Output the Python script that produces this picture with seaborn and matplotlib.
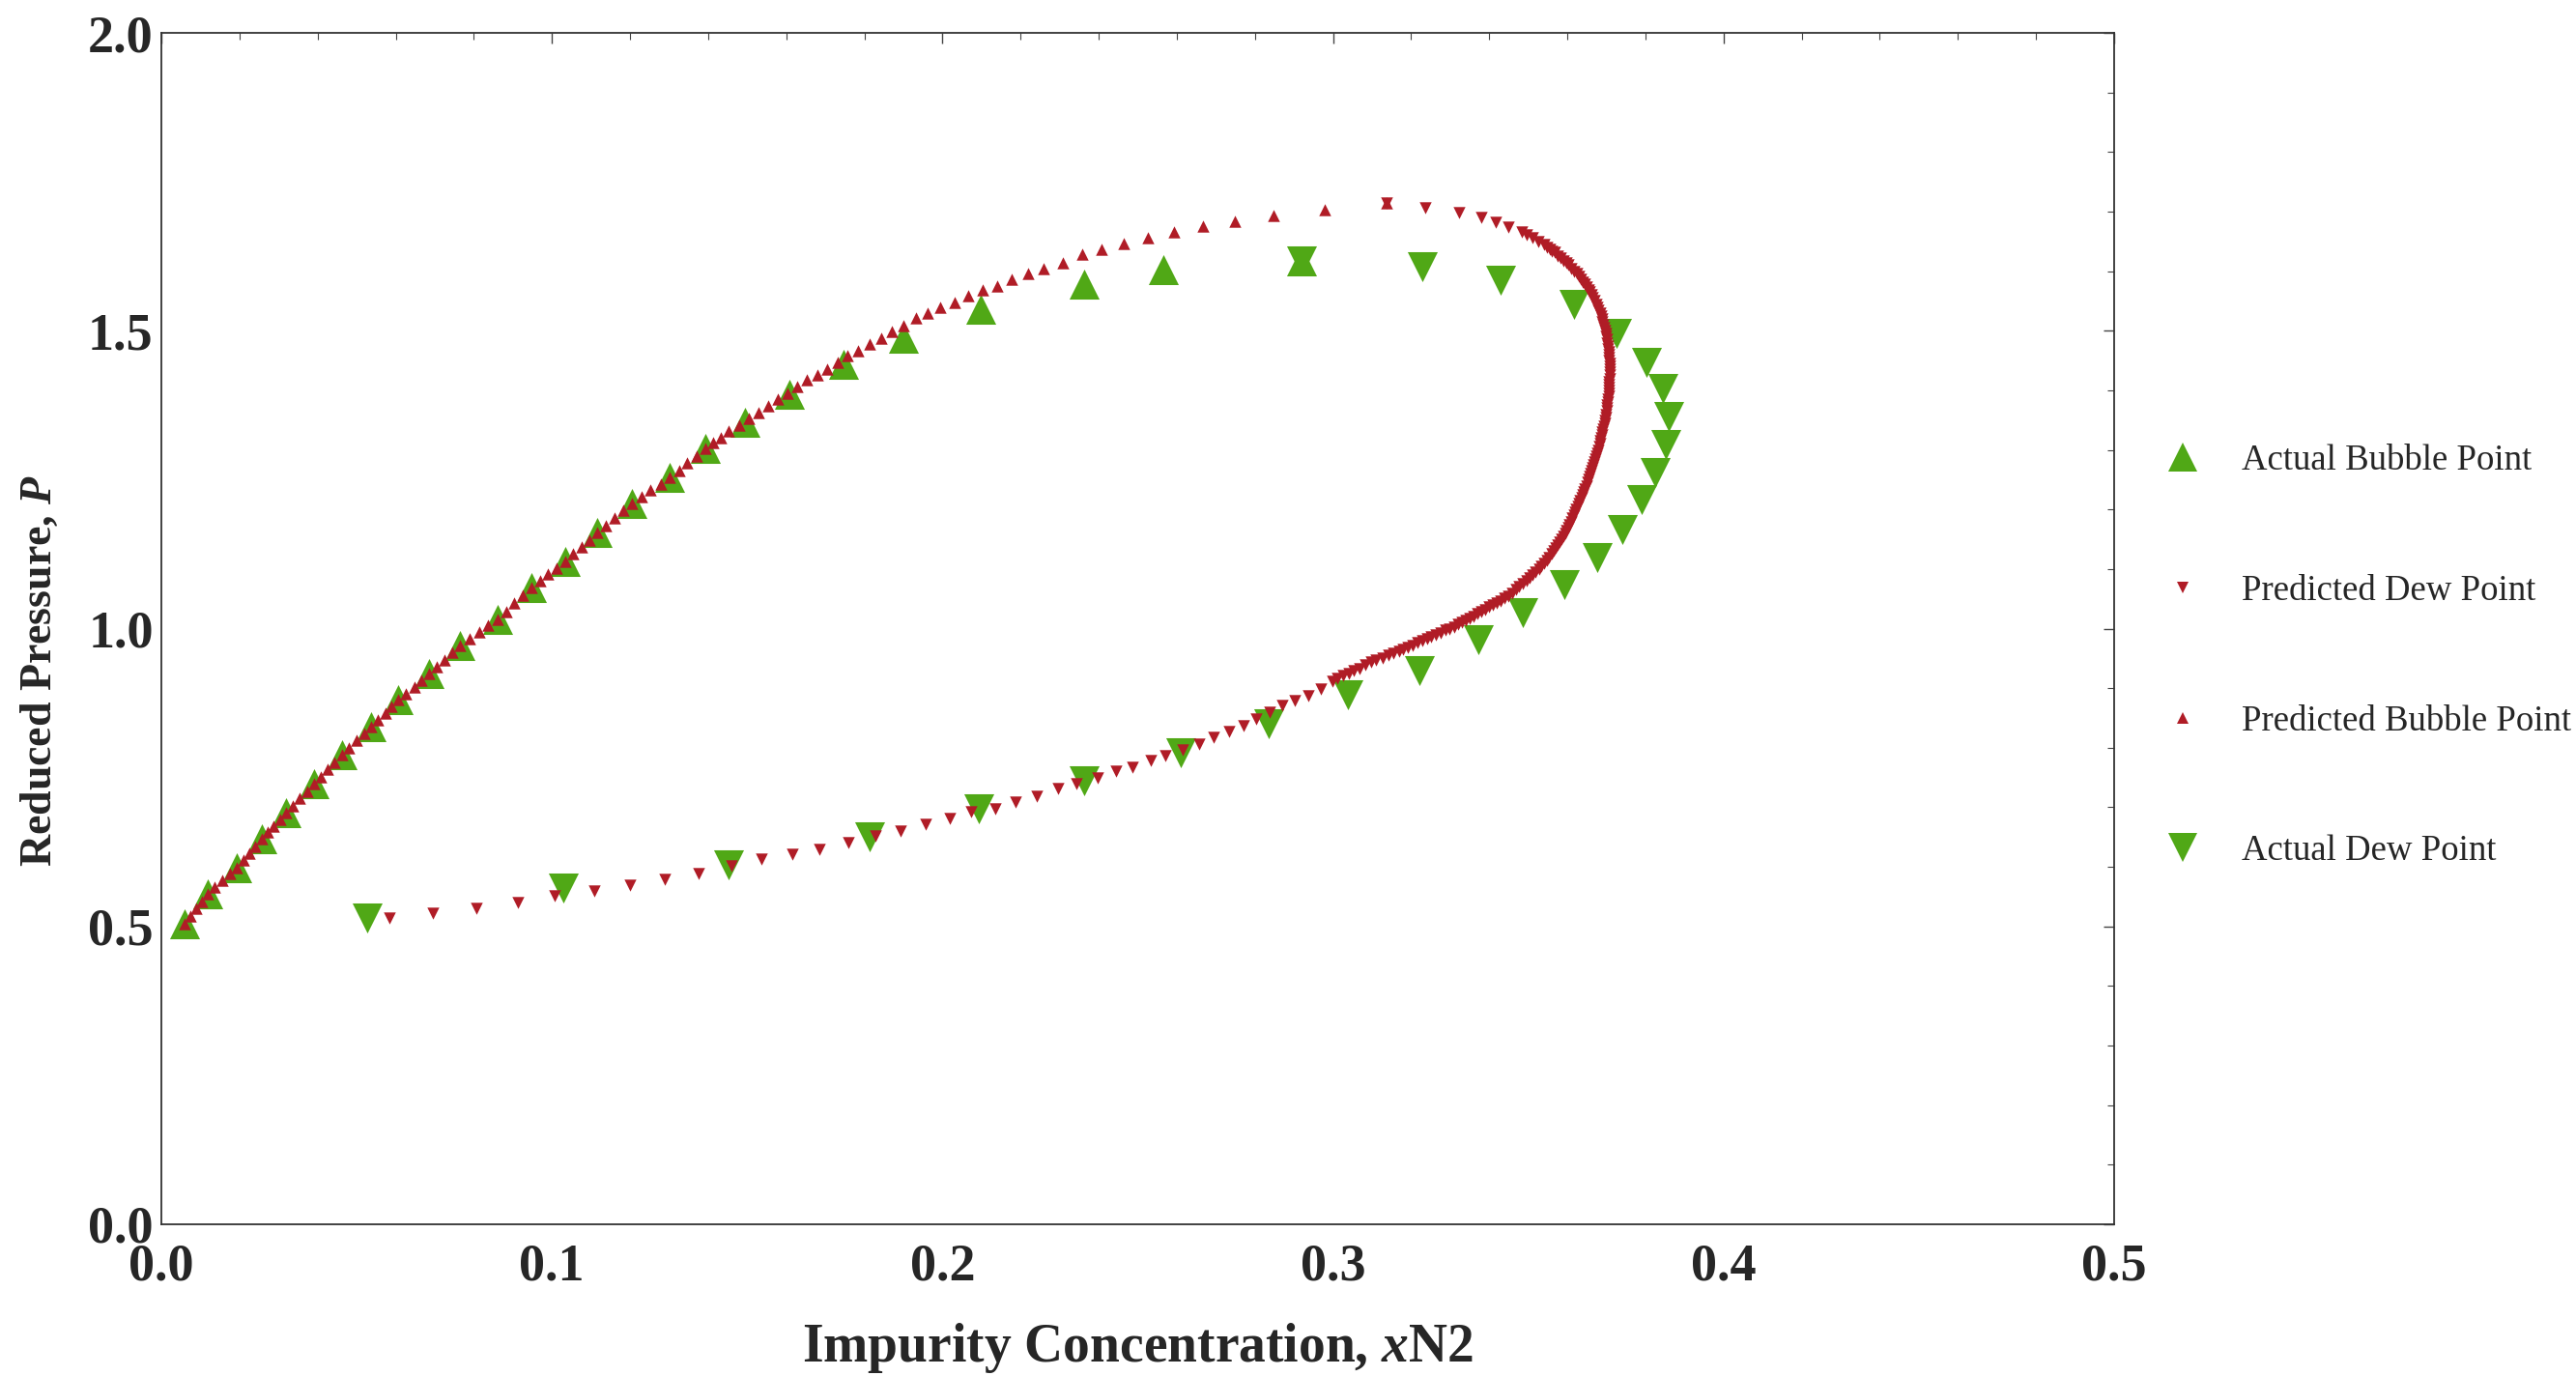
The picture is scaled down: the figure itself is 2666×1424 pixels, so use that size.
import numpy as np
import pandas as pd
import seaborn as sns
import matplotlib
matplotlib.use("Agg")
import matplotlib.pyplot as plt
from matplotlib.lines import Line2D
from matplotlib.ticker import MultipleLocator, FormatStrFormatter

# ---------------- data ----------------
actual_bubble_x = [0.0060, 0.0118, 0.0194, 0.0257, 0.0319, 0.0391, 0.0462, 0.0538, 0.0607,
                   0.0686, 0.0765, 0.0860, 0.0947, 0.1033, 0.1117, 0.1204, 0.1302, 0.1392,
                   0.1494, 0.1609, 0.1747, 0.1901, 0.2098, 0.2363, 0.2566, 0.2919]
actual_bubble_y = [0.505, 0.555, 0.599, 0.647, 0.691, 0.739, 0.788, 0.836, 0.880,
                   0.924, 0.972, 1.016, 1.069, 1.113, 1.161, 1.210, 1.254, 1.302,
                   1.346, 1.394, 1.443, 1.487, 1.536, 1.579, 1.603, 1.618]

actual_dew_x = [0.2919, 0.3228, 0.3428, 0.3617, 0.3727, 0.3802, 0.3844, 0.3859, 0.3853,
                0.3825, 0.3790, 0.3740, 0.3677, 0.3592, 0.3487, 0.3371, 0.3220, 0.3037,
                0.2835, 0.2610, 0.2363, 0.2092, 0.1814, 0.1452, 0.1030, 0.0528]
actual_dew_y = [1.618, 1.607, 1.585, 1.544, 1.495, 1.447, 1.403, 1.356, 1.309,
                1.262, 1.216, 1.167, 1.120, 1.073, 1.027, 0.981, 0.930, 0.889,
                0.840, 0.792, 0.745, 0.697, 0.651, 0.603, 0.564, 0.515]

pred_bubble_x = [0.0060, 0.0075, 0.0089, 0.0104, 0.0118, 0.0137, 0.0156, 0.0175, 0.0194, 0.0210,
                 0.0226, 0.0241, 0.0257, 0.0273, 0.0288, 0.0304, 0.0319, 0.0337, 0.0355, 0.0373,
                 0.0391, 0.0409, 0.0426, 0.0444, 0.0462, 0.0481, 0.0500, 0.0519, 0.0538, 0.0555,
                 0.0573, 0.0590, 0.0607, 0.0627, 0.0647, 0.0666, 0.0686, 0.0706, 0.0726, 0.0745,
                 0.0765, 0.0789, 0.0813, 0.0836, 0.0860, 0.0882, 0.0904, 0.0925, 0.0947, 0.0969,
                 0.0990, 0.1012, 0.1033, 0.1054, 0.1075, 0.1096, 0.1117, 0.1139, 0.1161, 0.1182,
                 0.1204, 0.1229, 0.1253, 0.1278, 0.1302, 0.1325, 0.1347, 0.1370, 0.1392, 0.1412,
                 0.1433, 0.1453, 0.1479, 0.1505, 0.1529, 0.1553, 0.1579, 0.1603, 0.1627, 0.1653,
                 0.1679, 0.1705, 0.1731, 0.1757, 0.1785, 0.1813, 0.1842, 0.1870, 0.1900, 0.1933,
                 0.1963, 0.1995, 0.2030, 0.2065, 0.2102, 0.2139, 0.2178, 0.2218, 0.2260, 0.2308,
                 0.2357, 0.2406, 0.2464, 0.2526, 0.2592, 0.2666, 0.2749, 0.2848, 0.2979, 0.3137]
pred_bubble_y = [0.505, 0.517, 0.530, 0.542, 0.555, 0.566, 0.577, 0.588, 0.599, 0.611,
                 0.623, 0.635, 0.647, 0.658, 0.669, 0.680, 0.691, 0.703, 0.715, 0.727,
                 0.739, 0.751, 0.764, 0.776, 0.788, 0.800, 0.812, 0.824, 0.836, 0.847,
                 0.858, 0.869, 0.880, 0.891, 0.902, 0.913, 0.924, 0.936, 0.948, 0.960,
                 0.972, 0.983, 0.994, 1.005, 1.016, 1.029, 1.043, 1.056, 1.069, 1.080,
                 1.091, 1.102, 1.113, 1.125, 1.137, 1.149, 1.161, 1.173, 1.185, 1.198,
                 1.210, 1.221, 1.232, 1.243, 1.254, 1.266, 1.278, 1.290, 1.302, 1.312,
                 1.321, 1.331, 1.341, 1.352, 1.363, 1.374, 1.385, 1.395, 1.406, 1.417,
                 1.425, 1.436, 1.447, 1.458, 1.467, 1.477, 1.487, 1.498, 1.509, 1.521,
                 1.530, 1.539, 1.548, 1.558, 1.569, 1.575, 1.586, 1.596, 1.604, 1.614,
                 1.628, 1.637, 1.647, 1.656, 1.666, 1.675, 1.684, 1.693, 1.703, 1.715]

pred_dew_x = [0.3137, 0.3237, 0.3322, 0.3379, 0.3417, 0.3450, 0.3483, 0.3497, 0.3511, 0.3526,
              0.3540, 0.3547, 0.3554, 0.3561, 0.3568, 0.3575, 0.3582, 0.3589, 0.3596, 0.3603,
              0.3610, 0.3618, 0.3625, 0.3630, 0.3635, 0.3640, 0.3645, 0.3649, 0.3653, 0.3657,
              0.3661, 0.3665, 0.3669, 0.3673, 0.3677, 0.3680, 0.3683, 0.3686, 0.3688, 0.3690,
              0.3692, 0.3694, 0.3696, 0.3698, 0.3699, 0.3701, 0.3702, 0.3703, 0.3704, 0.3705,
              0.3706, 0.3707, 0.3707, 0.3708, 0.3708, 0.3708, 0.3708, 0.3708, 0.3708, 0.3707,
              0.3707, 0.3706, 0.3706, 0.3705, 0.3705, 0.3704, 0.3703, 0.3702, 0.3701, 0.3700,
              0.3699, 0.3698, 0.3697, 0.3695, 0.3694, 0.3692, 0.3690, 0.3689, 0.3687, 0.3685,
              0.3683, 0.3681, 0.3679, 0.3677, 0.3675, 0.3672, 0.3670, 0.3667, 0.3665, 0.3662,
              0.3660, 0.3657, 0.3654, 0.3651, 0.3648, 0.3645, 0.3642, 0.3639, 0.3636, 0.3633,
              0.3630, 0.3626, 0.3623, 0.3619, 0.3616, 0.3612, 0.3609, 0.3605, 0.3602, 0.3598,
              0.3595, 0.3591, 0.3586, 0.3581, 0.3576, 0.3570, 0.3565, 0.3559, 0.3553, 0.3547,
              0.3541, 0.3534, 0.3527, 0.3519, 0.3511, 0.3503, 0.3495, 0.3486, 0.3477, 0.3468,
              0.3459, 0.3450, 0.3440, 0.3430, 0.3420, 0.3410, 0.3400, 0.3390, 0.3380, 0.3370,
              0.3360, 0.3350, 0.3340, 0.3330, 0.3320, 0.3310, 0.3299, 0.3288, 0.3276, 0.3264,
              0.3252, 0.3240, 0.3228, 0.3216, 0.3204, 0.3192, 0.3180, 0.3168, 0.3155, 0.3142,
              0.3127, 0.3111, 0.3097, 0.3083, 0.3068, 0.3054, 0.3040, 0.3026, 0.3012, 0.2998,
              0.2969, 0.2936, 0.2903, 0.2870, 0.2837, 0.2804, 0.2770, 0.2733, 0.2695, 0.2657,
              0.2614, 0.2571, 0.2534, 0.2486, 0.2444, 0.2398, 0.2344, 0.2295, 0.2242, 0.2188,
              0.2136, 0.2074, 0.2018, 0.1957, 0.1893, 0.1829, 0.1759, 0.1685, 0.1616, 0.1537,
              0.1460, 0.1375, 0.1290, 0.1201, 0.1109, 0.1008, 0.0913, 0.0806, 0.0696, 0.0583]
pred_dew_y = [1.715, 1.706, 1.698, 1.690, 1.682, 1.674, 1.666, 1.661, 1.656, 1.650,
              1.644, 1.640, 1.637, 1.634, 1.631, 1.626, 1.622, 1.618, 1.614, 1.610,
              1.605, 1.600, 1.596, 1.591, 1.587, 1.582, 1.578, 1.573, 1.569, 1.565,
              1.560, 1.555, 1.550, 1.545, 1.540, 1.535, 1.530, 1.525, 1.520, 1.515,
              1.510, 1.505, 1.500, 1.495, 1.490, 1.485, 1.480, 1.475, 1.470, 1.465,
              1.460, 1.455, 1.450, 1.445, 1.440, 1.435, 1.430, 1.425, 1.420, 1.415,
              1.410, 1.405, 1.400, 1.395, 1.390, 1.385, 1.380, 1.375, 1.370, 1.365,
              1.360, 1.355, 1.350, 1.345, 1.340, 1.335, 1.330, 1.325, 1.320, 1.315,
              1.310, 1.305, 1.300, 1.295, 1.290, 1.285, 1.280, 1.275, 1.270, 1.265,
              1.260, 1.255, 1.250, 1.245, 1.240, 1.235, 1.230, 1.225, 1.220, 1.215,
              1.210, 1.205, 1.200, 1.195, 1.190, 1.185, 1.180, 1.175, 1.170, 1.165,
              1.160, 1.155, 1.150, 1.145, 1.140, 1.135, 1.130, 1.125, 1.120, 1.115,
              1.110, 1.105, 1.100, 1.095, 1.090, 1.085, 1.080, 1.075, 1.070, 1.065,
              1.060, 1.055, 1.051, 1.047, 1.043, 1.040, 1.036, 1.032, 1.028, 1.025,
              1.021, 1.017, 1.014, 1.010, 1.007, 1.003, 1.000, 0.997, 0.993, 0.990,
              0.986, 0.983, 0.979, 0.976, 0.972, 0.969, 0.965, 0.962, 0.958, 0.955,
              0.951, 0.947, 0.944, 0.939, 0.933, 0.929, 0.925, 0.921, 0.917, 0.911,
              0.898, 0.887, 0.879, 0.871, 0.860, 0.849, 0.837, 0.828, 0.817, 0.806,
              0.796, 0.787, 0.778, 0.768, 0.760, 0.750, 0.739, 0.731, 0.719, 0.709,
              0.698, 0.693, 0.682, 0.671, 0.660, 0.652, 0.641, 0.630, 0.622, 0.613,
              0.601, 0.589, 0.579, 0.569, 0.560, 0.551, 0.540, 0.530, 0.522, 0.514]

legend_labels = ["Actual Bubble Point", "Predicted Dew Point",
                 "Predicted Bubble Point", "Actual Dew Point"]
x_ticks = [0.0, 0.1, 0.2, 0.3, 0.4, 0.5]
y_ticks = [0.0, 0.5, 1.0, 1.5, 2.0]

# ---------------- style ----------------
sns.set_style("white")
plt.rcParams['font.family'] = ['Liberation Serif', 'DejaVu Serif']
plt.rcParams['mathtext.fontset'] = 'custom'
plt.rcParams['mathtext.rm'] = 'Liberation Serif:bold'
plt.rcParams['mathtext.it'] = 'Liberation Serif:italic:bold'
plt.rcParams['mathtext.bf'] = 'Liberation Serif:bold'

GREEN = '#50a816'
RED = '#b01c26'

fig = plt.figure(figsize=(26.66, 14.24), dpi=100)
ax = fig.add_axes([167/2666, 1 - 1267/1424, (2188 - 167)/2666, (1267 - 34)/1424])

df_ab = pd.DataFrame({"x": actual_bubble_x, "y": actual_bubble_y})
df_ad = pd.DataFrame({"x": actual_dew_x, "y": actual_dew_y})
df_pb = pd.DataFrame({"x": pred_bubble_x, "y": pred_bubble_y})
df_pd = pd.DataFrame({"x": pred_dew_x, "y": pred_dew_y})

big = 500
small = 80
sns.scatterplot(data=df_ab, x="x", y="y", marker="^", s=big, color=GREEN, linewidth=0, ax=ax, zorder=2)
sns.scatterplot(data=df_ad, x="x", y="y", marker="v", s=big, color=GREEN, linewidth=0, ax=ax, zorder=2)
sns.scatterplot(data=df_pb, x="x", y="y", marker="^", s=small, color=RED, linewidth=0, ax=ax, zorder=3)
sns.scatterplot(data=df_pd, x="x", y="y", marker="v", s=small, color=RED, linewidth=0, ax=ax, zorder=3)

ax.set_xlim(0, 0.5)
ax.set_ylim(0, 2.0)
ax.set_xticks(x_ticks)
ax.set_yticks(y_ticks)
ax.xaxis.set_minor_locator(MultipleLocator(0.02))
ax.yaxis.set_minor_locator(MultipleLocator(0.1))
ax.xaxis.set_major_formatter(FormatStrFormatter('%.1f'))
ax.yaxis.set_major_formatter(FormatStrFormatter('%.1f'))
ax.tick_params(which='both', direction='in', top=True, right=True, color='#444444')
ax.tick_params(which='major', length=8, width=1.0, labelsize=39)
ax.tick_params(axis='x', which='major', pad=14)
ax.tick_params(axis='y', which='major', pad=6)
ax.tick_params(which='minor', length=5, width=0.8)
for lab in ax.get_xticklabels() + ax.get_yticklabels():
    lab.set_fontweight('bold')
for sp in ax.spines.values():
    sp.set_color('#333333')
    sp.set_linewidth(1.3)

ax.set_xlabel(r'Impurity Concentration, $x$N2', fontsize=40, fontweight='bold', labelpad=22)
ax.set_ylabel(r'Reduced Pressure, $P$', fontsize=33, fontweight='bold')
ax.yaxis.set_label_coords(-0.0515, 0.465)

handles = [
    Line2D([], [], marker='^', linestyle='none', markersize=21, color=GREEN, markeredgewidth=0),
    Line2D([], [], marker='v', linestyle='none', markersize=8.5, color=RED, markeredgewidth=0),
    Line2D([], [], marker='^', linestyle='none', markersize=8.5, color=RED, markeredgewidth=0),
    Line2D([], [], marker='v', linestyle='none', markersize=21, color=GREEN, markeredgewidth=0),
]
fig.legend(handles, legend_labels, loc='center left', bbox_to_anchor=(2241/2666, 1 - 679/1424),
           frameon=False, fontsize=26.5, labelspacing=2.72, handlelength=1.0,
           handletextpad=1.15, borderpad=0, borderaxespad=0)

fig.savefig("out.png", dpi=100, facecolor='white')
